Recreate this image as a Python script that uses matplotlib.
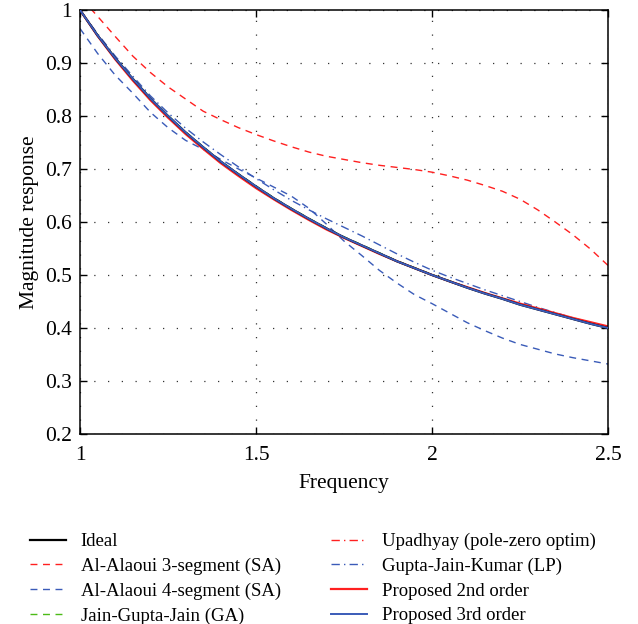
import matplotlib
matplotlib.use('Agg')
import matplotlib.pyplot as plt

plt.rcParams['font.family'] = ['Liberation Serif', 'DejaVu Serif']

# frequency grid used for all read-off curves
freq = [1.00, 1.05, 1.10, 1.15, 1.20, 1.25, 1.30, 1.35, 1.40, 1.45, 1.50,
        1.55, 1.60, 1.65, 1.70, 1.75, 1.80, 1.85, 1.90, 1.95, 2.00,
        2.05, 2.10, 2.15, 2.20, 2.25, 2.30, 2.35, 2.40, 2.45, 2.50]

ideal = [1.000, 0.952, 0.909, 0.870, 0.833, 0.800, 0.769, 0.741, 0.714, 0.690, 0.667,
         0.645, 0.625, 0.606, 0.588, 0.571, 0.556, 0.541, 0.526, 0.513, 0.500,
         0.488, 0.476, 0.465, 0.455, 0.444, 0.435, 0.426, 0.417, 0.408, 0.400]
alaoui3 = [1.025, 0.988, 0.950, 0.913, 0.882, 0.855, 0.832, 0.809, 0.793, 0.778, 0.765,
           0.753, 0.742, 0.732, 0.724, 0.718, 0.712, 0.707, 0.703, 0.699, 0.694,
           0.687, 0.679, 0.669, 0.658, 0.643, 0.623, 0.600, 0.576, 0.549, 0.518]
alaoui4 = [0.965, 0.918, 0.877, 0.843, 0.807, 0.778, 0.754, 0.737, 0.718, 0.700, 0.683,
           0.666, 0.649, 0.626, 0.596, 0.564, 0.537, 0.509, 0.485, 0.463, 0.446,
           0.428, 0.410, 0.395, 0.381, 0.369, 0.360, 0.351, 0.344, 0.338, 0.332]
jgj = [1.000, 0.953, 0.910, 0.871, 0.834, 0.801, 0.770, 0.742, 0.715, 0.691, 0.668,
       0.646, 0.626, 0.607, 0.589, 0.572, 0.557, 0.542, 0.527, 0.514, 0.501,
       0.489, 0.477, 0.466, 0.456, 0.445, 0.436, 0.427, 0.418, 0.409, 0.401]
upadhyay = [1.000, 0.952, 0.909, 0.869, 0.833, 0.799, 0.769, 0.740, 0.714, 0.689, 0.666,
            0.645, 0.625, 0.606, 0.588, 0.571, 0.555, 0.541, 0.526, 0.513, 0.500,
            0.488, 0.476, 0.465, 0.455, 0.445, 0.435, 0.426, 0.417, 0.409, 0.401]
gjk = [1.000, 0.955, 0.913, 0.875, 0.838, 0.806, 0.777, 0.751, 0.727, 0.704, 0.682,
       0.661, 0.641, 0.623, 0.606, 0.590, 0.574, 0.557, 0.540, 0.524, 0.509,
       0.496, 0.484, 0.472, 0.461, 0.450, 0.439, 0.429, 0.419, 0.410, 0.401]
prop2 = [1.000, 0.951, 0.907, 0.867, 0.830, 0.797, 0.766, 0.738, 0.711, 0.687, 0.664,
         0.643, 0.623, 0.604, 0.586, 0.570, 0.555, 0.540, 0.526, 0.513, 0.500,
         0.488, 0.477, 0.466, 0.456, 0.446, 0.437, 0.428, 0.419, 0.411, 0.403]
prop3 = [1.000, 0.952, 0.909, 0.870, 0.833, 0.800, 0.769, 0.741, 0.714, 0.690, 0.667,
         0.645, 0.625, 0.606, 0.588, 0.571, 0.556, 0.541, 0.526, 0.513, 0.500,
         0.488, 0.476, 0.465, 0.455, 0.444, 0.435, 0.426, 0.417, 0.408, 0.400]

red = '#ff2020'
blue = '#3a5bb8'

fig = plt.figure(figsize=(6.38, 6.24), dpi=100)
ax = fig.add_axes([0.1254, 0.3045, 0.8276, 0.6795])

ax.plot(freq, ideal, color='black', lw=1.6, label='Ideal', zorder=3)
ax.plot(freq, alaoui3, color=red, lw=1.0, ls=(0, (5, 4)), label='Al-Alaoui 3-segment (SA)')
ax.plot(freq, alaoui4, color=blue, lw=1.0, ls=(0, (5, 4)), label='Al-Alaoui 4-segment (SA)')
ax.plot(freq, jgj, color='#4cbb17', lw=1.0, ls=(0, (5, 4)), label='Jain-Gupta-Jain (GA)', zorder=1)
ax.plot(freq, upadhyay, color=red, lw=1.0, ls=(0, (6, 3, 1, 3)), label='Upadhyay (pole-zero optim)', zorder=1)
ax.plot(freq, gjk, color=blue, lw=1.0, ls=(0, (6, 3, 1, 3)), label='Gupta-Jain-Kumar (LP)')
ax.plot(freq, prop2, color=red, lw=1.6, label='Proposed 2nd order', zorder=2)
ax.plot(freq, prop3, color=blue, lw=1.4, label='Proposed 3rd order', zorder=4)

ax.set_xlim(1, 2.5)
ax.set_ylim(0.2, 1.0)
ax.set_xticks([1, 1.5, 2, 2.5])
ax.set_xticklabels(['1', '1.5', '2', '2.5'])
ax.set_yticks([0.2, 0.3, 0.4, 0.5, 0.6, 0.7, 0.8, 0.9, 1.0])
ax.set_yticklabels(['0.2', '0.3', '0.4', '0.5', '0.6', '0.7', '0.8', '0.9', '1'])
ax.tick_params(direction='in', top=True, right=True, labelsize=15.5, length=5, width=1)
ax.tick_params(axis='x', pad=9)
ax.tick_params(axis='y', pad=6)
ax.grid(True, ls=(0, (1, 10)), color='#333333', lw=0.9)
for s in ax.spines.values():
    s.set_linewidth(1.1)

ax.set_xlabel('Frequency', fontsize=15.5, labelpad=6)
ax.set_ylabel('Magnitude response', fontsize=15.5, labelpad=4)

ax.legend(loc='upper left', bbox_to_anchor=(0.047, 0.146), bbox_transform=fig.transFigure,
          ncol=2, frameon=False, fontsize=13.5, handlelength=1.9, handletextpad=0.8,
          columnspacing=2.7, labelspacing=0.4, borderaxespad=0, borderpad=0)

fig.savefig('out.png', dpi=100)
